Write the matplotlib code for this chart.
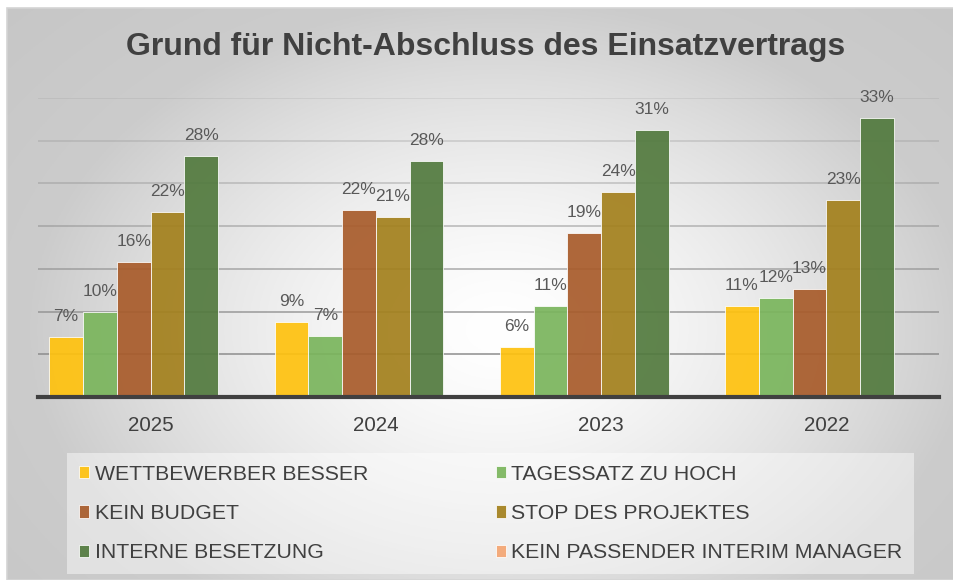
import numpy as np
import matplotlib
matplotlib.use("Agg")
import matplotlib.pyplot as plt
from matplotlib.patches import Rectangle

plt.rcParams['font.family'] = ['Liberation Sans', 'DejaVu Sans']

years = ["2025", "2024", "2023", "2022"]
series = ["WETTBEWERBER BESSER", "TAGESSATZ ZU HOCH", "KEIN BUDGET",
          "STOP DES PROJEKTES", "INTERNE BESETZUNG", "KEIN PASSENDER INTERIM MANAGER"]

wettbewerber = [7.0, 8.8, 5.9, 10.6]
tagessatz = [9.95, 7.1, 10.7, 11.6]
kein_budget = [15.8, 21.9, 19.2, 12.6]
stop_projekt = [21.7, 21.1, 24.0, 23.1]
interne = [28.2, 27.6, 31.3, 32.7]
kein_manager = [np.nan, np.nan, np.nan, np.nan]

values = [wettbewerber, tagessatz, kein_budget, stop_projekt, interne, kein_manager]
colors = ['#ffc20e', '#7ab55c', '#a85b2a', '#a3801c', '#527a3e', '#f4a572']

W, H = 954, 580
fig = plt.figure(figsize=(W / 100, H / 100), dpi=100)

# background with radial gradient
bg = fig.add_axes([0, 0, 1, 1])
bg.set_xlim(0, W)
bg.set_ylim(H, 0)
bg.axis('off')
xx, yy = np.meshgrid(np.linspace(7, W, 400), np.linspace(8, H, 250))
r = np.sqrt(((xx - 500) / 470) ** 2 + ((yy - 330) / 330) ** 2)
b = 1 - 0.2 * np.clip(r, 0, 1) ** 1.5 - 0.05 * np.clip(r - 1, 0, 1)
bg.imshow(np.dstack([b, b, b]), extent=(7, W, H, 8), aspect='auto', zorder=0)
bg.add_patch(Rectangle((7, 8), W - 7, H - 8, fill=False, edgecolor='#d4d4d4', lw=1.2, zorder=1))

ax = fig.add_axes([38 / W, 1 - 397 / H, (939 - 38) / W, (397 - 98) / H])
ax.patch.set_alpha(0)

for lvl in [5, 10, 15, 20, 25, 30, 35]:
    ax.axhline(lvl, color='#8c8c8c', lw=1.3, alpha=0.95 - lvl * 0.022, zorder=1)

x = np.arange(len(years))
bw = 0.15
handles = []
for i, (name, vals, col) in enumerate(zip(series, values, colors)):
    bars = ax.bar(x + (i - 2.5) * bw, vals, bw, color=col, alpha=0.92,
                  edgecolor=(1, 1, 1, 0.35), linewidth=0.6, label=name, zorder=3)
    handles.append(bars)
    for rect, v in zip(bars, vals):
        if np.isnan(v):
            continue
        ax.annotate(f"{v:.0f}%", (rect.get_x() + rect.get_width() / 2, v),
                    xytext=(0, 11.5), textcoords='offset points', ha='center',
                    va='baseline', fontsize=12.5, color='#595959', zorder=4,
                    annotation_clip=False)

ax.set_xlim(-0.5, 3.5)
ax.set_ylim(0, 35)
ax.set_yticks([])
ax.set_xticks(x, years)
ax.tick_params(axis='x', length=0, pad=14, labelsize=14.9, colors='#404040')
for s in ['top', 'left', 'right']:
    ax.spines[s].set_visible(False)
ax.spines['bottom'].set_color('#404040')
ax.spines['bottom'].set_linewidth(3)
ax.spines['bottom'].set_zorder(5)

fig.text(486 / W, 1 - 47 / H, "Grund für Nicht-Abschluss des Einsatzvertrags",
         ha='center', va='center', fontsize=23, fontweight='bold', color='#404040')

order = [0, 2, 4, 1, 3, 5]
leg = fig.legend([handles[k] for k in order], [series[k] for k in order], ncol=2,
                 loc='upper left', bbox_to_anchor=(67 / W, 1 - 453 / H), borderaxespad=0,
                 frameon=True, facecolor='white', framealpha=0.45, edgecolor='none',
                 fancybox=False, fontsize=15.3, handlelength=0.5, handleheight=0.5,
                 handletextpad=0.25, columnspacing=6, labelspacing=0.96, borderpad=0.55,
                 labelcolor='#404040')

fig.savefig("out.png", dpi=100)
